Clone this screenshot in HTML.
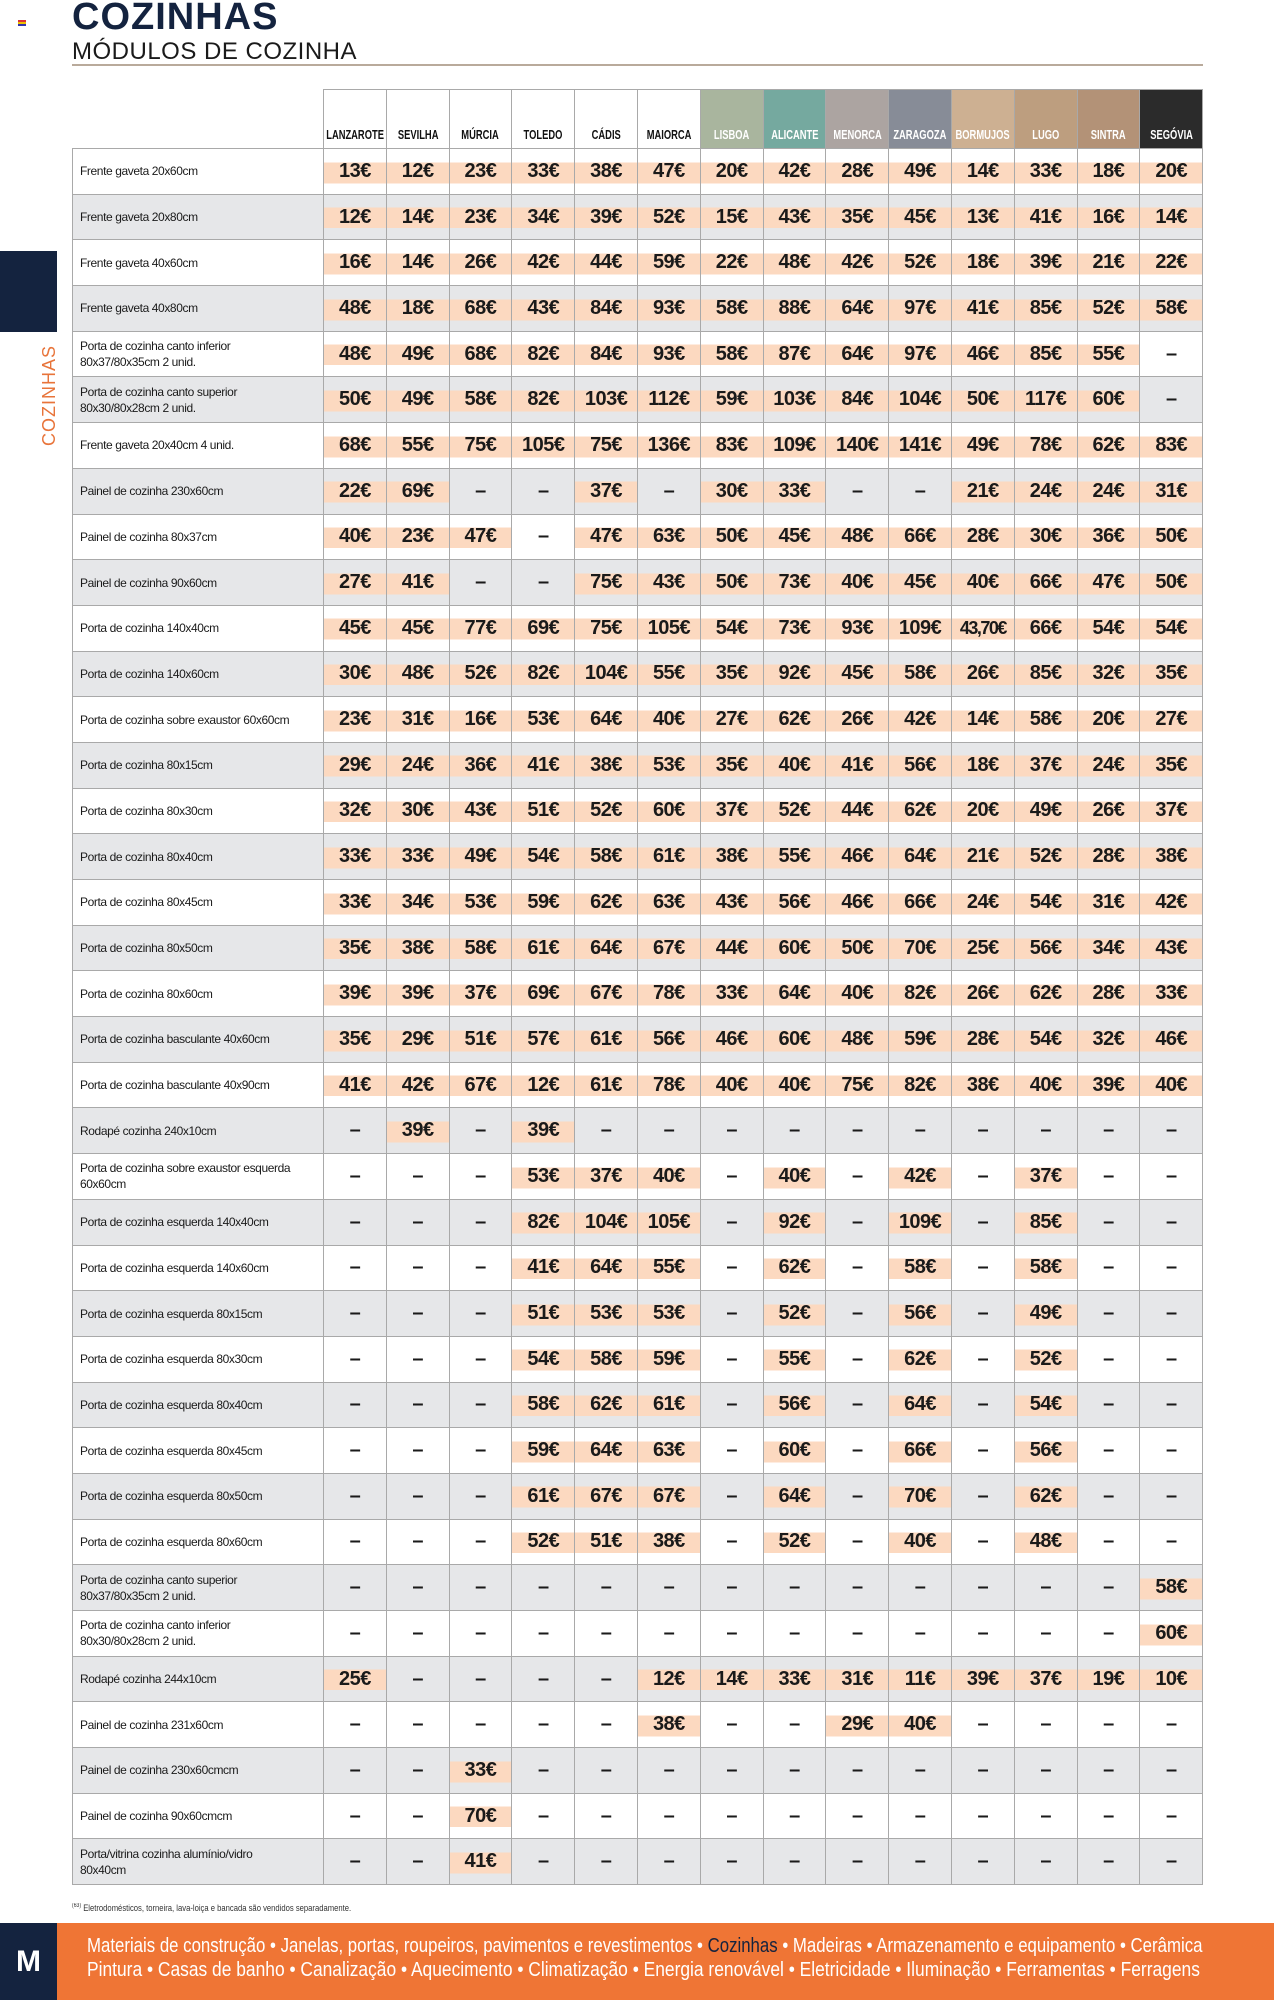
<!DOCTYPE html>
<html><head><meta charset="utf-8"><style>
*{margin:0;padding:0;box-sizing:border-box}
body{width:1274px;height:2000px;background:#fff;position:relative;overflow:hidden;font-family:"Liberation Sans",sans-serif}
.t1{position:absolute;left:72px;top:-2px;font:bold 38px/1 "Liberation Sans",sans-serif;color:#14233f;letter-spacing:1px}
.t2{position:absolute;left:72px;top:38px;font:24px "Liberation Sans",sans-serif;color:#1a1a1a;letter-spacing:0.5px}
.ul{position:absolute;left:72px;top:64px;width:1131px;height:2px;background:#b9aa9b}
.side{position:absolute;left:0;top:251px;width:57px;height:81px;background:#14233f}
.vt{position:absolute;left:39px;top:446px;transform:rotate(-90deg);transform-origin:0 0;color:#e8743a;font:18px "Liberation Sans",sans-serif;letter-spacing:1px}
.mk{position:absolute;left:18px;top:20px;width:8px;height:6px;background:linear-gradient(#d33 0 33%,#eec000 33% 66%,#33a 66%)}
table{position:absolute;left:72px;top:89px;border-collapse:collapse;table-layout:fixed;width:1130px}
td,th{border:1px solid #a9a9a9;height:45.7px;text-align:center;vertical-align:middle}
th{height:59px;vertical-align:bottom;padding-bottom:6px;font:bold 13px "Liberation Sans",sans-serif;color:#111;white-space:nowrap;overflow:visible}
th span{display:inline-block;transform:scaleX(0.72);margin:0 -20px}
th.e{border:none;border-bottom:1px solid #a9a9a9}
td{font:bold 20px "Liberation Sans",sans-serif;color:#1a1a1a;letter-spacing:-0.5px}
td.l{text-align:left;font:12px "Liberation Sans",sans-serif;padding-left:7px;line-height:16px;color:#1a1a1a;white-space:nowrap;letter-spacing:-0.4px;overflow:hidden}
tr:nth-child(odd) td{background:#e6e7e9}
td.p{background:linear-gradient(transparent 29%,#fcd9c0 29%,#fcd9c0 76%,transparent 76%)!important}
tr:nth-child(odd) td.p{background:linear-gradient(#e6e7e9 29%,#fcd9c0 29%,#fcd9c0 76%,#e6e7e9 76%)!important}
tr.h td{background:none}
.fn{position:absolute;left:72px;top:1903px;font:9px "Liberation Sans",sans-serif;color:#333;transform:scaleX(0.85);transform-origin:0 0}
.ft{position:absolute;left:0;top:1923px;width:1274px;height:77px;background:#ef7535}
.fl{position:absolute;left:0;top:0;width:57px;height:77px;background:#14233f;color:#fff;font:bold 30px "Liberation Sans",sans-serif;text-align:center;line-height:77px}
.fx{position:absolute;left:87px;color:#fff;font:20px "Liberation Sans",sans-serif;white-space:nowrap;transform-origin:0 0}
.fx b{color:#14233f;font-weight:normal}
</style></head><body>
<div class="mk"></div>
<div class="t1">COZINHAS</div>
<div class="t2">MÓDULOS DE COZINHA</div>
<div class="ul"></div>
<div class="side"></div>
<div class="vt">COZINHAS</div>
<table>
<colgroup><col style="width:251px"><col span="14" style="width:62.8px"></colgroup>
<tr class="h"><th class="e"></th><th><span>LANZAROTE</span></th><th><span>SEVILHA</span></th><th><span>MÚRCIA</span></th><th><span>TOLEDO</span></th><th><span>CÁDIS</span></th><th><span>MAIORCA</span></th><th style="background:#a9b59e;color:#fff"><span>LISBOA</span></th><th style="background:#75a99f;color:#fff"><span>ALICANTE</span></th><th style="background:#aca4a1;color:#fff"><span>MENORCA</span></th><th style="background:#878c97;color:#fff"><span>ZARAGOZA</span></th><th style="background:#cdb092;color:#fff"><span>BORMUJOS</span></th><th style="background:#bd9e7f;color:#fff"><span>LUGO</span></th><th style="background:#b39277;color:#fff"><span>SINTRA</span></th><th style="background:#2b2b2b;color:#fff"><span>SEGÓVIA</span></th></tr>
<tr><td class="l">Frente gaveta 20x60cm</td><td class="p">13€</td><td class="p">12€</td><td class="p">23€</td><td class="p">33€</td><td class="p">38€</td><td class="p">47€</td><td class="p">20€</td><td class="p">42€</td><td class="p">28€</td><td class="p">49€</td><td class="p">14€</td><td class="p">33€</td><td class="p">18€</td><td class="p">20€</td></tr>
<tr><td class="l">Frente gaveta 20x80cm</td><td class="p">12€</td><td class="p">14€</td><td class="p">23€</td><td class="p">34€</td><td class="p">39€</td><td class="p">52€</td><td class="p">15€</td><td class="p">43€</td><td class="p">35€</td><td class="p">45€</td><td class="p">13€</td><td class="p">41€</td><td class="p">16€</td><td class="p">14€</td></tr>
<tr><td class="l">Frente gaveta 40x60cm</td><td class="p">16€</td><td class="p">14€</td><td class="p">26€</td><td class="p">42€</td><td class="p">44€</td><td class="p">59€</td><td class="p">22€</td><td class="p">48€</td><td class="p">42€</td><td class="p">52€</td><td class="p">18€</td><td class="p">39€</td><td class="p">21€</td><td class="p">22€</td></tr>
<tr><td class="l">Frente gaveta 40x80cm</td><td class="p">48€</td><td class="p">18€</td><td class="p">68€</td><td class="p">43€</td><td class="p">84€</td><td class="p">93€</td><td class="p">58€</td><td class="p">88€</td><td class="p">64€</td><td class="p">97€</td><td class="p">41€</td><td class="p">85€</td><td class="p">52€</td><td class="p">58€</td></tr>
<tr><td class="l">Porta de cozinha canto inferior<br>80x37/80x35cm 2 unid.</td><td class="p">48€</td><td class="p">49€</td><td class="p">68€</td><td class="p">82€</td><td class="p">84€</td><td class="p">93€</td><td class="p">58€</td><td class="p">87€</td><td class="p">64€</td><td class="p">97€</td><td class="p">46€</td><td class="p">85€</td><td class="p">55€</td><td>–</td></tr>
<tr><td class="l">Porta de cozinha canto superior<br>80x30/80x28cm 2 unid.</td><td class="p">50€</td><td class="p">49€</td><td class="p">58€</td><td class="p">82€</td><td class="p">103€</td><td class="p">112€</td><td class="p">59€</td><td class="p">103€</td><td class="p">84€</td><td class="p">104€</td><td class="p">50€</td><td class="p">117€</td><td class="p">60€</td><td>–</td></tr>
<tr><td class="l">Frente gaveta 20x40cm 4 unid.</td><td class="p">68€</td><td class="p">55€</td><td class="p">75€</td><td class="p">105€</td><td class="p">75€</td><td class="p">136€</td><td class="p">83€</td><td class="p">109€</td><td class="p">140€</td><td class="p">141€</td><td class="p">49€</td><td class="p">78€</td><td class="p">62€</td><td class="p">83€</td></tr>
<tr><td class="l">Painel de cozinha 230x60cm</td><td class="p">22€</td><td class="p">69€</td><td>–</td><td>–</td><td class="p">37€</td><td>–</td><td class="p">30€</td><td class="p">33€</td><td>–</td><td>–</td><td class="p">21€</td><td class="p">24€</td><td class="p">24€</td><td class="p">31€</td></tr>
<tr><td class="l">Painel de cozinha 80x37cm</td><td class="p">40€</td><td class="p">23€</td><td class="p">47€</td><td>–</td><td class="p">47€</td><td class="p">63€</td><td class="p">50€</td><td class="p">45€</td><td class="p">48€</td><td class="p">66€</td><td class="p">28€</td><td class="p">30€</td><td class="p">36€</td><td class="p">50€</td></tr>
<tr><td class="l">Painel de cozinha 90x60cm</td><td class="p">27€</td><td class="p">41€</td><td>–</td><td>–</td><td class="p">75€</td><td class="p">43€</td><td class="p">50€</td><td class="p">73€</td><td class="p">40€</td><td class="p">45€</td><td class="p">40€</td><td class="p">66€</td><td class="p">47€</td><td class="p">50€</td></tr>
<tr><td class="l">Porta de cozinha 140x40cm</td><td class="p">45€</td><td class="p">45€</td><td class="p">77€</td><td class="p">69€</td><td class="p">75€</td><td class="p">105€</td><td class="p">54€</td><td class="p">73€</td><td class="p">93€</td><td class="p">109€</td><td class="p" style="letter-spacing:-1.5px;font-size:18px">43,70€</td><td class="p">66€</td><td class="p">54€</td><td class="p">54€</td></tr>
<tr><td class="l">Porta de cozinha 140x60cm</td><td class="p">30€</td><td class="p">48€</td><td class="p">52€</td><td class="p">82€</td><td class="p">104€</td><td class="p">55€</td><td class="p">35€</td><td class="p">92€</td><td class="p">45€</td><td class="p">58€</td><td class="p">26€</td><td class="p">85€</td><td class="p">32€</td><td class="p">35€</td></tr>
<tr><td class="l">Porta de cozinha sobre exaustor 60x60cm</td><td class="p">23€</td><td class="p">31€</td><td class="p">16€</td><td class="p">53€</td><td class="p">64€</td><td class="p">40€</td><td class="p">27€</td><td class="p">62€</td><td class="p">26€</td><td class="p">42€</td><td class="p">14€</td><td class="p">58€</td><td class="p">20€</td><td class="p">27€</td></tr>
<tr><td class="l">Porta de cozinha 80x15cm</td><td class="p">29€</td><td class="p">24€</td><td class="p">36€</td><td class="p">41€</td><td class="p">38€</td><td class="p">53€</td><td class="p">35€</td><td class="p">40€</td><td class="p">41€</td><td class="p">56€</td><td class="p">18€</td><td class="p">37€</td><td class="p">24€</td><td class="p">35€</td></tr>
<tr><td class="l">Porta de cozinha 80x30cm</td><td class="p">32€</td><td class="p">30€</td><td class="p">43€</td><td class="p">51€</td><td class="p">52€</td><td class="p">60€</td><td class="p">37€</td><td class="p">52€</td><td class="p">44€</td><td class="p">62€</td><td class="p">20€</td><td class="p">49€</td><td class="p">26€</td><td class="p">37€</td></tr>
<tr><td class="l">Porta de cozinha 80x40cm</td><td class="p">33€</td><td class="p">33€</td><td class="p">49€</td><td class="p">54€</td><td class="p">58€</td><td class="p">61€</td><td class="p">38€</td><td class="p">55€</td><td class="p">46€</td><td class="p">64€</td><td class="p">21€</td><td class="p">52€</td><td class="p">28€</td><td class="p">38€</td></tr>
<tr><td class="l">Porta de cozinha 80x45cm</td><td class="p">33€</td><td class="p">34€</td><td class="p">53€</td><td class="p">59€</td><td class="p">62€</td><td class="p">63€</td><td class="p">43€</td><td class="p">56€</td><td class="p">46€</td><td class="p">66€</td><td class="p">24€</td><td class="p">54€</td><td class="p">31€</td><td class="p">42€</td></tr>
<tr><td class="l">Porta de cozinha 80x50cm</td><td class="p">35€</td><td class="p">38€</td><td class="p">58€</td><td class="p">61€</td><td class="p">64€</td><td class="p">67€</td><td class="p">44€</td><td class="p">60€</td><td class="p">50€</td><td class="p">70€</td><td class="p">25€</td><td class="p">56€</td><td class="p">34€</td><td class="p">43€</td></tr>
<tr><td class="l">Porta de cozinha 80x60cm</td><td class="p">39€</td><td class="p">39€</td><td class="p">37€</td><td class="p">69€</td><td class="p">67€</td><td class="p">78€</td><td class="p">33€</td><td class="p">64€</td><td class="p">40€</td><td class="p">82€</td><td class="p">26€</td><td class="p">62€</td><td class="p">28€</td><td class="p">33€</td></tr>
<tr><td class="l">Porta de cozinha basculante 40x60cm</td><td class="p">35€</td><td class="p">29€</td><td class="p">51€</td><td class="p">57€</td><td class="p">61€</td><td class="p">56€</td><td class="p">46€</td><td class="p">60€</td><td class="p">48€</td><td class="p">59€</td><td class="p">28€</td><td class="p">54€</td><td class="p">32€</td><td class="p">46€</td></tr>
<tr><td class="l">Porta de cozinha basculante 40x90cm</td><td class="p">41€</td><td class="p">42€</td><td class="p">67€</td><td class="p">12€</td><td class="p">61€</td><td class="p">78€</td><td class="p">40€</td><td class="p">40€</td><td class="p">75€</td><td class="p">82€</td><td class="p">38€</td><td class="p">40€</td><td class="p">39€</td><td class="p">40€</td></tr>
<tr><td class="l">Rodapé cozinha 240x10cm</td><td>–</td><td class="p">39€</td><td>–</td><td class="p">39€</td><td>–</td><td>–</td><td>–</td><td>–</td><td>–</td><td>–</td><td>–</td><td>–</td><td>–</td><td>–</td></tr>
<tr><td class="l">Porta de cozinha sobre exaustor esquerda<br>60x60cm</td><td>–</td><td>–</td><td>–</td><td class="p">53€</td><td class="p">37€</td><td class="p">40€</td><td>–</td><td class="p">40€</td><td>–</td><td class="p">42€</td><td>–</td><td class="p">37€</td><td>–</td><td>–</td></tr>
<tr><td class="l">Porta de cozinha esquerda 140x40cm</td><td>–</td><td>–</td><td>–</td><td class="p">82€</td><td class="p">104€</td><td class="p">105€</td><td>–</td><td class="p">92€</td><td>–</td><td class="p">109€</td><td>–</td><td class="p">85€</td><td>–</td><td>–</td></tr>
<tr><td class="l">Porta de cozinha esquerda 140x60cm</td><td>–</td><td>–</td><td>–</td><td class="p">41€</td><td class="p">64€</td><td class="p">55€</td><td>–</td><td class="p">62€</td><td>–</td><td class="p">58€</td><td>–</td><td class="p">58€</td><td>–</td><td>–</td></tr>
<tr><td class="l">Porta de cozinha esquerda 80x15cm</td><td>–</td><td>–</td><td>–</td><td class="p">51€</td><td class="p">53€</td><td class="p">53€</td><td>–</td><td class="p">52€</td><td>–</td><td class="p">56€</td><td>–</td><td class="p">49€</td><td>–</td><td>–</td></tr>
<tr><td class="l">Porta de cozinha esquerda 80x30cm</td><td>–</td><td>–</td><td>–</td><td class="p">54€</td><td class="p">58€</td><td class="p">59€</td><td>–</td><td class="p">55€</td><td>–</td><td class="p">62€</td><td>–</td><td class="p">52€</td><td>–</td><td>–</td></tr>
<tr><td class="l">Porta de cozinha esquerda 80x40cm</td><td>–</td><td>–</td><td>–</td><td class="p">58€</td><td class="p">62€</td><td class="p">61€</td><td>–</td><td class="p">56€</td><td>–</td><td class="p">64€</td><td>–</td><td class="p">54€</td><td>–</td><td>–</td></tr>
<tr><td class="l">Porta de cozinha esquerda 80x45cm</td><td>–</td><td>–</td><td>–</td><td class="p">59€</td><td class="p">64€</td><td class="p">63€</td><td>–</td><td class="p">60€</td><td>–</td><td class="p">66€</td><td>–</td><td class="p">56€</td><td>–</td><td>–</td></tr>
<tr><td class="l">Porta de cozinha esquerda 80x50cm</td><td>–</td><td>–</td><td>–</td><td class="p">61€</td><td class="p">67€</td><td class="p">67€</td><td>–</td><td class="p">64€</td><td>–</td><td class="p">70€</td><td>–</td><td class="p">62€</td><td>–</td><td>–</td></tr>
<tr><td class="l">Porta de cozinha esquerda 80x60cm</td><td>–</td><td>–</td><td>–</td><td class="p">52€</td><td class="p">51€</td><td class="p">38€</td><td>–</td><td class="p">52€</td><td>–</td><td class="p">40€</td><td>–</td><td class="p">48€</td><td>–</td><td>–</td></tr>
<tr><td class="l">Porta de cozinha canto superior<br>80x37/80x35cm 2 unid.</td><td>–</td><td>–</td><td>–</td><td>–</td><td>–</td><td>–</td><td>–</td><td>–</td><td>–</td><td>–</td><td>–</td><td>–</td><td>–</td><td class="p">58€</td></tr>
<tr><td class="l">Porta de cozinha canto inferior<br>80x30/80x28cm 2 unid.</td><td>–</td><td>–</td><td>–</td><td>–</td><td>–</td><td>–</td><td>–</td><td>–</td><td>–</td><td>–</td><td>–</td><td>–</td><td>–</td><td class="p">60€</td></tr>
<tr><td class="l">Rodapé cozinha 244x10cm</td><td class="p">25€</td><td>–</td><td>–</td><td>–</td><td>–</td><td class="p">12€</td><td class="p">14€</td><td class="p">33€</td><td class="p">31€</td><td class="p">11€</td><td class="p">39€</td><td class="p">37€</td><td class="p">19€</td><td class="p">10€</td></tr>
<tr><td class="l">Painel de cozinha 231x60cm</td><td>–</td><td>–</td><td>–</td><td>–</td><td>–</td><td class="p">38€</td><td>–</td><td>–</td><td class="p">29€</td><td class="p">40€</td><td>–</td><td>–</td><td>–</td><td>–</td></tr>
<tr><td class="l">Painel de cozinha 230x60cmcm</td><td>–</td><td>–</td><td class="p">33€</td><td>–</td><td>–</td><td>–</td><td>–</td><td>–</td><td>–</td><td>–</td><td>–</td><td>–</td><td>–</td><td>–</td></tr>
<tr><td class="l">Painel de cozinha 90x60cmcm</td><td>–</td><td>–</td><td class="p">70€</td><td>–</td><td>–</td><td>–</td><td>–</td><td>–</td><td>–</td><td>–</td><td>–</td><td>–</td><td>–</td><td>–</td></tr>
<tr><td class="l">Porta/vitrina cozinha alumínio/vidro<br>80x40cm</td><td>–</td><td>–</td><td class="p">41€</td><td>–</td><td>–</td><td>–</td><td>–</td><td>–</td><td>–</td><td>–</td><td>–</td><td>–</td><td>–</td><td>–</td></tr>
</table>
<div class="fn"><sup style="font-size:6px">(63)</sup> Eletrodomésticos, torneira, lava-loiça e bancada são vendidos separadamente.</div>
<div class="ft">
<div class="fl">M</div>
<div class="fx" style="top:12px;transform:scaleX(0.84)">Materiais de construção • Janelas, portas, roupeiros, pavimentos e revestimentos • <b>Cozinhas</b> • Madeiras • Armazenamento e equipamento • Cerâmica</div>
<div class="fx" style="top:36px;transform:scaleX(0.87)">Pintura • Casas de banho • Canalização • Aquecimento • Climatização • Energia renovável • Eletricidade • Iluminação • Ferramentas • Ferragens</div>
</div>
</body></html>
